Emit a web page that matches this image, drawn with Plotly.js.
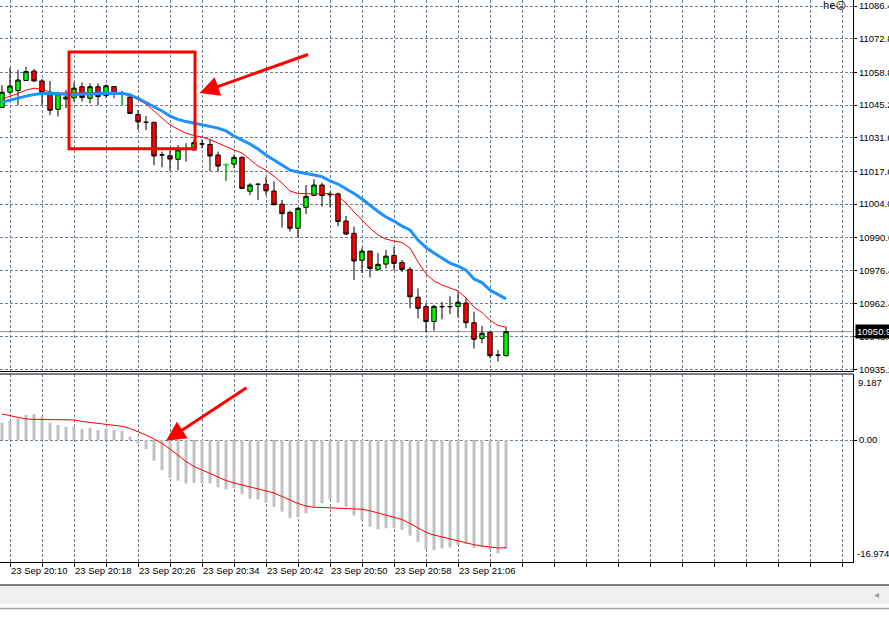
<!DOCTYPE html>
<html><head><meta charset="utf-8">
<script src="https://cdn.plot.ly/plotly-3.0.1.min.js"></script>
<style>html,body{margin:0;padding:0;background:#fff;overflow:hidden}#chart{width:889px;height:617px}</style>
</head><body><div id="chart"></div>
<script>
const dayLabel = "23 Sep";
const times = ["20:09","20:10","20:11","20:12","20:13","20:14","20:15","20:16","20:17","20:18",
"20:19","20:20","20:21","20:22","20:23","20:24","20:25","20:26","20:27","20:28",
"20:29","20:30","20:31","20:32","20:33","20:34","20:35","20:36","20:37","20:38",
"20:39","20:40","20:41","20:42","20:43","20:44","20:45","20:46","20:47","20:48",
"20:49","20:50","20:51","20:52","20:53","20:54","20:55","20:56","20:57","20:58",
"20:59","21:00","21:01","21:02","21:03","21:04","21:05","21:06","21:07","21:08",
"21:09","21:10","21:11","21:12"];
const open = [11044.2,11050.5,11051.2,11055.4,11059.3,11055.2,11050.2,11043.4,11047.7,11048.2,
11052.8,11048.0,11052.8,11049.1,11052.9,11050.2,11048.5,11041.3,11038.0,11038.0,
11024.4,11024.1,11022.6,11026.9,11026.5,11029.0,11028.8,11024.4,11020.4,11020.6,
11023.4,11009.3,11012.2,11012.2,11009.4,11003.9,11000.5,10993.9,11002.6,11007.6,
11011.9,11007.9,11008.2,10996.9,10991.8,10980.6,10984.4,10976.8,10979.0,10982.6,
10979.7,10976.8,10965.2,10961.3,10955.1,10961.3,10961.3,10961.4,10962.8,10954.6,
10948.1,10950.6,10941.1,10940.9];
const high = [11053.5,11060.8,11059.8,11061.1,11060.2,11056.0,11055.2,11050.7,11051.4,11054.6,
11054.6,11054.2,11054.2,11053.8,11053.1,11051.1,11050.1,11043.1,11040.6,11038.2,
11025.8,11026.2,11028.5,11029.3,11030.6,11030.9,11031.0,11025.8,11020.9,11024.6,
11023.8,11012.7,11012.7,11015.2,11013.4,11005.7,11001.2,11002.7,11011.9,11014.3,
11012.9,11009.1,11008.8,10999.0,10994.6,10985.9,10984.5,10983.6,10984.9,10986.2,
10980.7,10977.8,10968.9,10962.4,10962.0,10963.2,10965.6,10967.2,10964.7,10959.2,
10953.2,10950.9,10943.2,10952.9];
const low = [11044.1,11049.4,11045.2,11055.2,11054.9,11045.2,11041.0,11040.4,11043.9,11046.6,
11046.6,11045.9,11045.2,11048.0,11048.0,11045.2,11041.4,11034.8,11034.8,11020.2,
11019.3,11017.9,11018.1,11021.6,11026.3,11027.2,11017.7,11017.4,11013.6,11019.0,
11010.4,11007.7,11005.7,11007.7,11003.4,10994.2,10992.5,10990.1,10999.8,11007.3,
11002.9,11002.7,10994.8,10991.1,10972.4,10975.3,10973.4,10976.3,10977.2,10976.5,
10975.7,10960.6,10956.4,10950.7,10951.3,10956.0,10958.2,10956.8,10952.3,10943.9,
10946.0,10939.8,10938.4,10940.5];
const close = [11050.5,11053.1,11055.6,11059.1,11055.2,11050.4,11043.0,11049.9,11048.5,11052.2,
11048.3,11052.8,11048.7,11053.2,11049.8,11050.2,11041.7,11038.2,11038.0,11024.0,
11024.4,11022.7,11026.5,11026.9,11029.6,11029.0,11024.0,11019.8,11020.4,11023.4,
11010.5,11011.9,11012.2,11009.5,11003.7,11000.0,10993.9,11002.2,11007.2,11011.9,
11007.5,11007.9,10996.7,10991.5,10980.3,10984.4,10977.2,10978.9,10982.3,10979.3,
10976.8,10965.4,10960.6,10955.1,10961.4,10961.3,10961.3,10963.1,10954.6,10947.7,
10950.2,10940.9,10941.1,10950.9];
const maFast = [11047.7,11048.7,11050.0,11051.4,11052.2,11051.7,11050.6,11050.1,11050.1,11050.2,
11050.2,11050.3,11050.4,11050.5,11050.4,11050.1,11049.2,11047.3,11045.6,11042.7,
11039.8,11036.9,11035.1,11033.5,11032.5,11031.9,11030.8,11029.3,11027.9,11026.5,
11025.2,11022.3,11019.8,11018.1,11015.6,11012.7,11009.4,11008.4,11008.2,11008.2,
11008.2,11008.4,11007.3,11004.4,11000.7,10997.3,10993.9,10991.1,10989.4,10988.6,
10988.0,10985.7,10979.9,10974.9,10972.0,10970.3,10968.9,10967.8,10964.9,10961.1,
10958.8,10955.7,10953.4,10952.8];
const maSlow = [11046.4,11047.3,11048.1,11048.9,11049.6,11050.0,11050.0,11049.8,11049.6,11049.6,
11049.8,11049.8,11050.0,11050.1,11050.1,11050.1,11049.4,11048.0,11046.2,11044.6,
11042.7,11040.6,11039.2,11038.3,11037.7,11037.1,11036.5,11035.6,11034.4,11032.3,
11030.6,11029.0,11026.9,11024.4,11022.3,11020.2,11018.1,11017.3,11016.8,11016.1,
11015.4,11013.6,11012.3,11010.4,11008.4,11006.1,11003.4,11000.9,10998.6,10996.9,
10994.8,10993.2,10989.0,10985.9,10983.6,10981.5,10979.4,10978.2,10976.5,10972.8,
10971.3,10968.2,10966.5,10964.5];
const macd = [2.41,2.69,3.02,3.48,3.62,3.25,2.41,2.09,1.85,1.85,
1.53,1.71,1.39,1.63,1.39,1.26,0.46,-0.46,-1.25,-2.88,
-4.17,-5.24,-5.66,-6.08,-5.94,-6.02,-6.02,-6.58,-6.86,-6.72,
-7.55,-8.17,-8.25,-8.72,-9.28,-9.97,-10.89,-10.75,-10.20,-9.28,
-8.81,-8.25,-8.72,-9.28,-10.53,-11.23,-12.06,-12.42,-12.28,-12.28,
-12.52,-13.31,-14.15,-15.17,-15.30,-15.07,-14.98,-14.61,-14.47,-14.98,
-14.93,-15.30,-15.76,-15.17];
const signal = [3.62,3.38,3.16,2.93,2.88,2.88,2.86,2.83,2.81,2.79,
2.58,2.44,2.27,2.13,2.02,1.91,1.60,1.19,0.70,0.14,
-0.48,-1.25,-2.08,-2.99,-3.68,-4.17,-4.63,-5.15,-5.63,-5.98,
-6.26,-6.50,-6.77,-7.02,-7.37,-7.86,-8.35,-8.83,-9.18,-9.36,
-9.39,-9.42,-9.46,-9.49,-9.54,-9.63,-9.85,-10.16,-10.43,-10.71,
-11.06,-11.62,-12.24,-12.84,-13.22,-13.50,-13.77,-14.05,-14.33,-14.57,
-14.75,-14.89,-15.03,-14.96];
const greenDojiBars = [15, 28];
const priceTicks = [11086.4,11072.8,11058.8,11045.2,11031.6,11017.6,11004.0,10990.0,10976.4,10962.4,10948.8,10935.2];
const macdMax = 9.187, macdMin = -16.974;

const idx = times.map((t, i) => i);
const GRID = '#708090';
const GDASH = '3px,2px';
const FONT = {family: 'Liberation Sans, Arial, sans-serif', size: 9.5, color: '#000'};
const last = close.length - 1;

const tickVals = [], tickText = [];
for (let k = 1; k <= 105; k += 4) {
  tickVals.push(k);
  tickText.push(((k - 1) % 8 === 0 && k < times.length) ? dayLabel + ' ' + times[k] : '');
}

const pick = (arr) => greenDojiBars.map(i => arr[i]);

const traces = [
  {type: 'candlestick', x: idx, open: open, high: high, low: low, close: close,
   xaxis: 'x', yaxis: 'y', whiskerwidth: 0, hoverinfo: 'skip', showlegend: false,
   increasing: {line: {color: '#000', width: 1}, fillcolor: '#00ff00'},
   decreasing: {line: {color: '#000', width: 1}, fillcolor: '#ff0000'}},
  {type: 'candlestick', x: greenDojiBars, open: pick(open), high: pick(high), low: pick(low), close: pick(close),
   xaxis: 'x', yaxis: 'y', whiskerwidth: 0, hoverinfo: 'skip', showlegend: false,
   increasing: {line: {color: '#00ff00', width: 1}, fillcolor: '#00ff00'},
   decreasing: {line: {color: '#00ff00', width: 1}, fillcolor: '#00ff00'}},
  {type: 'scatter', mode: 'lines', x: idx, y: maFast, xaxis: 'x', yaxis: 'y',
   line: {color: '#ff0000', width: 1}, hoverinfo: 'skip', showlegend: false},
  {type: 'scatter', mode: 'lines', x: idx, y: maSlow, xaxis: 'x', yaxis: 'y',
   line: {color: '#1e90ff', width: 3}, hoverinfo: 'skip', showlegend: false},
  {type: 'bar', x: idx, y: macd, xaxis: 'x', yaxis: 'y2', width: 0.375,
   marker: {color: '#c0c0c0', line: {width: 0}}, hoverinfo: 'skip', showlegend: false},
  {type: 'scatter', mode: 'lines', x: idx, y: signal, xaxis: 'x', yaxis: 'y2',
   line: {color: '#ff0000', width: 1}, hoverinfo: 'skip', showlegend: false}
];

const W = 889, H = 617, PR = 853, PB = 562;
const px = (x) => x / PR;
const py = (y) => (PB - y) / PB;

const layout = {
  width: W, height: H,
  margin: {l: 0, r: W - PR, t: 0, b: H - PB, pad: 0},
  paper_bgcolor: '#fff', plot_bgcolor: '#fff',
  showlegend: false, hovermode: false,
  boxgap: 0.45, boxgroupgap: 0,
  font: FONT,
  xaxis: {domain: [0, 1], range: [-0.25, 106.375], anchor: 'y2',
    tickvals: tickVals, ticktext: tickText, ticks: 'outside', ticklen: 4, tickcolor: '#000',
    ticklabelposition: 'outside right', tickangle: 0,
    showgrid: true, gridcolor: GRID, griddash: GDASH, gridwidth: 1,
    showline: true, linecolor: '#000', linewidth: 1, zeroline: false,
    tickfont: FONT, rangeslider: {visible: false}, fixedrange: true},
  yaxis: {domain: [py(371.5), 1], range: [10934.3, 11088.9], side: 'right', anchor: 'x',
    tickvals: priceTicks, ticktext: priceTicks.map(v => v.toFixed(1)),
    ticks: 'outside', ticklen: 3, tickcolor: '#000',
    showgrid: true, gridcolor: GRID, griddash: GDASH, gridwidth: 1,
    showline: true, linecolor: '#000', linewidth: 1, zeroline: false,
    tickfont: FONT, fixedrange: true},
  yaxis2: {domain: [0, py(374)], range: [macdMin, macdMax], side: 'right', anchor: 'x',
    tickvals: [0], ticktext: ['0.00'], ticks: 'outside', ticklen: 3, tickcolor: '#000',
    showgrid: true, gridcolor: GRID, griddash: GDASH, gridwidth: 1,
    showline: true, linecolor: '#000', linewidth: 1, zeroline: false,
    tickfont: FONT, fixedrange: true},
  shapes: [
    {type: 'line', xref: 'paper', x0: 0, x1: 1, yref: 'y domain', y0: 0, y1: 0, line: {color: '#000', width: 1}},
    {type: 'line', xref: 'paper', x0: 0, x1: 1, yref: 'y2 domain', y0: 1, y1: 1, line: {color: '#000', width: 1}},
    {type: 'line', xref: 'paper', x0: 0, x1: 1, yref: 'y', y0: close[last], y1: close[last], line: {color: '#909090', width: 1}, layer: 'below'},
    {type: 'rect', xref: 'x', yref: 'y', x0: 8.375, x1: 24.125, y0: 11027.0, y1: 11067.3, line: {color: '#ff0000', width: 3}},
    {type: 'rect', xref: 'paper', yref: 'paper', x0: 0, x1: px(W), y0: py(604), y1: py(585), fillcolor: '#f0f0f0', line: {width: 0}},
    {type: 'line', xref: 'paper', yref: 'paper', x0: 0, x1: px(W), y0: py(585), y1: py(585), line: {color: '#000', width: 1}},
    {type: 'line', xref: 'paper', yref: 'paper', x0: 0, x1: px(W), y0: py(608.5), y1: py(608.5), line: {color: '#a0a0a0', width: 1.5}}
  ],
  annotations: [
    {xref: 'x', yref: 'y', x: 24.69, y: 11050.2, ax: 110, ay: -39, text: '', showarrow: true,
     arrowhead: 2, arrowsize: 1.3, arrowwidth: 3, arrowcolor: '#ff0000', standoff: 0},
    {xref: 'x', yref: 'y2', x: 20.5, y: -0.1, ax: 82, ay: -54, text: '', showarrow: true,
     arrowhead: 2, arrowsize: 1.3, arrowwidth: 3, arrowcolor: '#ff0000', standoff: 0},
    {xref: 'paper', yref: 'y', x: 1, y: close[last], xanchor: 'left', yanchor: 'middle', xshift: 2,
     text: close[last].toFixed(1), showarrow: false, bgcolor: '#000', borderpad: 1,
     font: {family: FONT.family, size: 9.5, color: '#fff'}},
    {xref: 'paper', yref: 'y2 domain', x: 1, y: 1, xanchor: 'left', yanchor: 'top', xshift: 3, yshift: -1,
     text: macdMax.toFixed(3), showarrow: false, font: FONT},
    {xref: 'paper', yref: 'y2 domain', x: 1, y: 0, xanchor: 'left', yanchor: 'bottom', xshift: 2, yshift: 1,
     text: macdMin.toFixed(3), showarrow: false, font: FONT},
    {xref: 'paper', yref: 'paper', x: px(848), y: py(6), xanchor: 'right', yanchor: 'middle',
     text: 'he☺', showarrow: false, font: {family: 'DejaVu Sans, sans-serif', size: 10, color: '#000'}},
    {xref: 'paper', yref: 'paper', x: px(876), y: py(594), xanchor: 'center', yanchor: 'middle',
     text: '◂', showarrow: false, font: {family: 'DejaVu Sans, sans-serif', size: 10, color: '#a0a0a0'}}
  ]
};

Plotly.newPlot('chart', traces, layout, {staticPlot: true, displayModeBar: false});
</script>
</body></html>
